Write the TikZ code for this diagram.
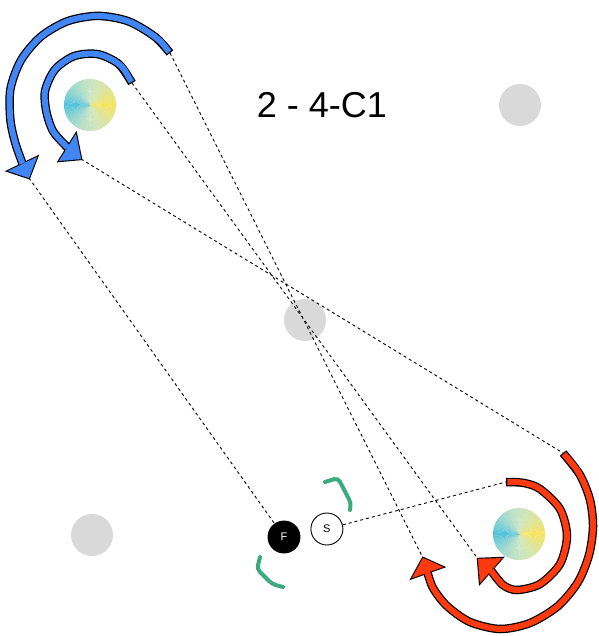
\documentclass[tikz,border=0pt]{standalone}
\usepackage{fontspec}
\setmainfont{Liberation Sans}
\usepackage{tikz}
\usetikzlibrary{positioning}
\definecolor{arrblue}{HTML}{4285F4}
\definecolor{arrred}{HTML}{FF3A0E}
\definecolor{spotgray}{HTML}{D9D9D9}
\definecolor{brkgreen}{HTML}{3CAA7D}
\definecolor{wheelcyan}{HTML}{52C3DD}
\definecolor{wheelyellow}{HTML}{F8E35C}

\begin{document}
\begin{tikzpicture}[x=1pt, y=-1pt,
  link/.style={black, line width=0.9pt, dash pattern=on 3pt off 3pt},
  spot/.style={circle, fill=spotgray, minimum size=42pt, inner sep=0pt},
  player/.style={circle, draw=black, line width=0.9pt, minimum size=32pt, inner sep=0pt, font=\fontsize{11}{13}\selectfont},
  bracket/.style={brkgreen, line width=4pt, line cap=round, rounded corners=4pt}]
  \useasboundingbox (0,0) rectangle (598,636);
  \node[spot] (spot-ne) at (520,105) {};
  \node[spot] (spot-mid) at (305,320) {};
  \node[spot] (spot-sw) at (92,535) {};
  \foreach \cx/\cy in {90/105, 519/534}
    \foreach \a in {0,4,...,356} {
      \pgfmathsetmacro\yel{abs(\a+2-180)/1.8}
      \pgfmathsetmacro\tint{100-38*sin(1.8*\yel)}
      \colorlet{wedge}{wheelyellow!\yel!wheelcyan}
      \fill[wedge!\tint!white] (\cx,\cy) -- ++(\a:26) arc[start angle=\a, end angle=\a+4.6, radius=26] -- cycle;
    }
  \node[font=\fontsize{36}{40}\selectfont, anchor=base] (title) at (322,118) {2 - 4-C1};
  \node[player, fill=black, text=white] (F) at (284,537) {F};
  \node[player, fill=white, right=10pt of F, yshift=8pt] (S) {S};
  \draw[bracket] (325,482) -- (338,478) -- (351,503) -- (350,510);
  \draw[bracket] (260,557) -- (257,569) -- (272,584) -- (283,587);
  \coordinate (bo-s) at (170,53);
  \coordinate (bo-t) at (29,178);
  \coordinate (bi-s) at (132,83);
  \coordinate (bi-t) at (81,159);
  \coordinate (ro-s) at (563,453);
  \coordinate (ro-t) at (423,558);
  \coordinate (ri-s) at (506,482);
  \coordinate (ri-t) at (478,559);
  \draw[link] (bo-s) -- (ro-t);
  \draw[link] (bi-s) -- (ri-t);
  \draw[link] (bi-t) -- (ro-s);
  \draw[link] (bo-t) -- (F);
  \draw[link] (S) -- (ri-s);
  \foreach \col/\lw/\sh/\tw in {black/8.5/0/2.4, arrblue/6/1.3/0.1} {
    \draw[color=\col, line width=\lw pt, shorten <=\sh pt] plot[smooth] coordinates {(bo-s) (154.8,36.7) (128.1,21.2) (97.8,15.9) (67.5,21.2) (40.8,36.7) (21,60.2) (10.4,89.2) (10.4,120) (15.3,143.1) (22.5,163.5)};
    \filldraw[color=\col, line width=\tw pt] (8,171) -- (37,157) -- (bo-t) -- cycle;
    \draw[color=\col, line width=\lw pt, shorten <=\sh pt] plot[smooth] coordinates {(bi-s) (118.7,64) (97.5,54.1) (74.1,56.1) (55,69.5) (45.1,90.8) (46.4,111.8) (53.2,131.4) (67.5,147.5)};
    \filldraw[color=\col, line width=\tw pt] (59,161) -- (76,134) -- (bi-t) -- cycle;
  }
  \foreach \col/\lw/\sh/\tw in {black/8.5/0/2.4, arrred/6/1.3/0.1} {
    \draw[color=\col, line width=\lw pt, shorten <=\sh pt] plot[smooth] coordinates {(ro-s) (580,475) (590,500) (593,527) (589,555) (578,582) (558,606) (530,623) (500,629) (470,622) (447,606) (433,588) (427.5,572.5)};
    \filldraw[color=\col, line width=\tw pt] (412,578) -- (443,567) -- (ro-t) -- cycle;
    \draw[color=\col, line width=\lw pt, shorten <=\sh pt] plot[smooth] coordinates {(ri-s) (524,483) (540,489) (560,509) (567,536) (560,564) (540,584) (517,590) (503,585) (491,570.5)};
    \filldraw[color=\col, line width=\tw pt] (480,583) -- (502,558) -- (ri-t) -- cycle;
  }
\end{tikzpicture}
\end{document}
